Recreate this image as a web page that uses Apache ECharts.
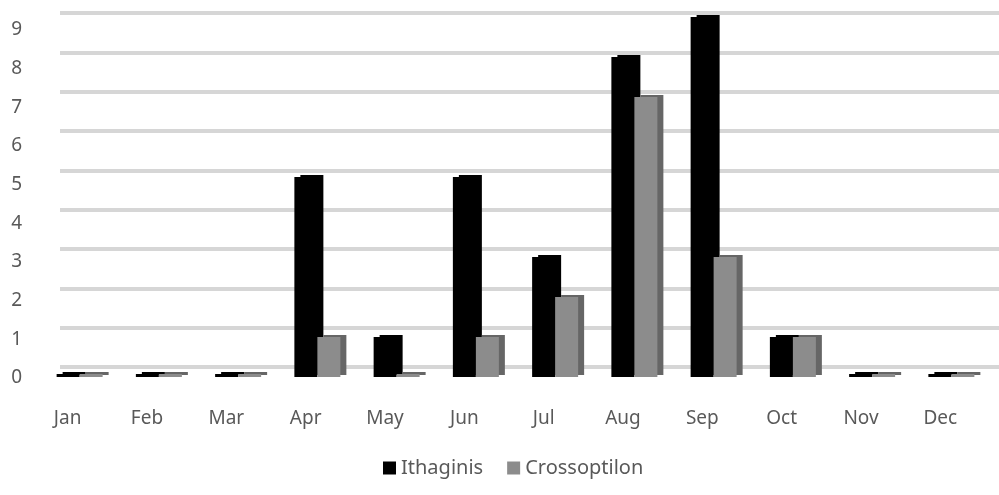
<!DOCTYPE html>
<html>
<head>
<meta charset="utf-8">
<script src="https://cdn.jsdelivr.net/npm/echarts@6/dist/echarts.min.js"></script>
<style>
  html, body { margin: 0; padding: 0; background: #ffffff; }
  #chart { width: 999px; height: 495px; }
</style>
</head>
<body>
<div id="chart"></div>
<script>
// monthly counts
var months = ['Jan', 'Feb', 'Mar', 'Apr', 'May', 'Jun', 'Jul', 'Aug', 'Sep', 'Oct', 'Nov', 'Dec'];
var ithaginis = [0, 0, 0, 5, 1, 5, 3, 8, 9, 1, 0, 0];
var crossoptilon = [0, 0, 0, 1, 0, 1, 2, 7, 3, 1, 0, 0];

var labelFont = 'Noto Sans, Liberation Sans, sans-serif';
var textColor = '#595959';

var chart = echarts.init(document.getElementById('chart'));

var option = {
  animation: false,
  backgroundColor: '#ffffff',
  legend: {
    data: ['Ithaginis', 'Crossoptilon'],
    left: 378,
    top: 453,
    itemWidth: 13,
    itemHeight: 13,
    itemGap: 24,
    icon: 'rect',
    textStyle: { color: textColor, fontSize: 20, fontFamily: labelFont }
  },
  grid: [
    // back wall (gridlines)
    { left: 60, right: 0, top: 13, bottom: 128 },
    // front (bars)
    { left: 40, right: 8, top: 17, bottom: 118 },
    // labels
    { left: 28, right: 19, top: 30, bottom: 117 }
  ],
  xAxis: [
    { gridIndex: 0, type: 'category', data: months, show: false },
    { gridIndex: 1, type: 'category', data: months, show: false },
    {
      gridIndex: 2, type: 'category', data: months,
      axisLine: { show: false }, axisTick: { show: false },
      axisLabel: { color: textColor, fontSize: 19, fontFamily: labelFont, margin: 31 }
    }
  ],
  yAxis: [
    {
      gridIndex: 0, type: 'value', min: 0, max: 9, interval: 1,
      axisLine: { show: false }, axisTick: { show: false }, axisLabel: { show: false },
      splitLine: { lineStyle: { color: '#d6d6d6', width: 4 } }
    },
    {
      gridIndex: 1, type: 'value', min: 0, max: 9, interval: 1,
      show: false, splitLine: { show: false }
    },
    {
      gridIndex: 2, type: 'value', min: 0, max: 9, interval: 1,
      axisLine: { show: false }, axisTick: { show: false },
      splitLine: { show: false },
      axisLabel: { color: textColor, fontSize: 19, fontFamily: labelFont, margin: 6 }
    }
  ],
  series: [
    {
      name: 'Ithaginis',
      type: 'bar',
      xAxisIndex: 1,
      yAxisIndex: 1,
      data: ithaginis,
      barWidth: 23,
      barGap: '0%',
      barMinHeight: 3,
      itemStyle: {
        color: '#000000',
        shadowColor: '#000000',
        shadowOffsetX: 6,
        shadowOffsetY: -2,
        shadowBlur: 0
      }
    },
    {
      name: 'Crossoptilon',
      type: 'bar',
      xAxisIndex: 1,
      yAxisIndex: 1,
      data: crossoptilon,
      barWidth: 23,
      barMinHeight: 3,
      itemStyle: {
        color: '#8c8c8c',
        shadowColor: '#666666',
        shadowOffsetX: 6,
        shadowOffsetY: -2,
        shadowBlur: 0
      }
    }
  ]
};

chart.setOption(option);
</script>
</body>
</html>
